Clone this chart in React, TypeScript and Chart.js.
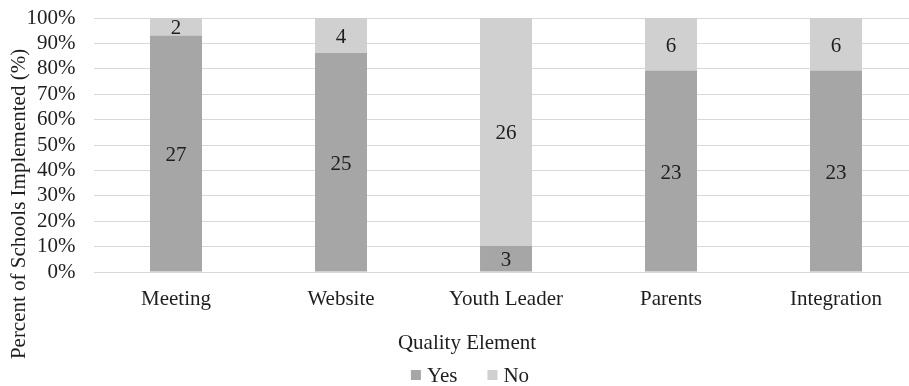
import React, { useEffect, useRef } from "react";
import { Chart, registerables } from "chart.js";

Chart.register(...registerables);

// School counts per quality element
const categories = ["Meeting", "Website", "Youth Leader", "Parents", "Integration"];
const yesCounts = [27, 25, 3, 23, 23];
const noCounts = [2, 4, 26, 6, 6];
const yTickLabels = ["0%", "10%", "20%", "30%", "40%", "50%", "60%", "70%", "80%", "90%", "100%"];

const seriesNames = ["Yes", "No"];
const seriesColors = ["#a6a6a6", "#d0d0d0"];

const FONT = '"Liberation Serif", "Times New Roman", serif';
const FONT_SIZE = 21;
const TEXT_COLOR = "#1e1e1e";

const CANVAS_W = 930;
const CANVAS_H = 386;

const pct = (counts: number[], other: number[]) =>
  counts.map((c, i) => (c / (c + other[i])) * 100);

const countsBySeries = [yesCounts, noCounts];

// Writes the count inside each stacked segment
const segmentLabels = {
  id: "segmentLabels",
  afterDatasetsDraw(chart: any) {
    const ctx = chart.ctx;
    ctx.save();
    ctx.font = `${FONT_SIZE}px ${FONT}`;
    ctx.fillStyle = TEXT_COLOR;
    ctx.textAlign = "center";
    ctx.textBaseline = "middle";
    chart.data.datasets.forEach((ds: any, di: number) => {
      const meta = chart.getDatasetMeta(di);
      meta.data.forEach((bar: any, i: number) => {
        const cy = (bar.y + bar.base) / 2;
        ctx.fillText(String(countsBySeries[di][i]), bar.x, cy + 2);
      });
    });
    ctx.restore();
  },
};

// Axis titles and legend drawn around the plot
const outerText = {
  id: "outerText",
  afterDraw(chart: any) {
    const ctx = chart.ctx;
    ctx.save();
    ctx.font = `${FONT_SIZE}px ${FONT}`;
    ctx.fillStyle = TEXT_COLOR;
    ctx.textBaseline = "middle";

    // y-axis title
    ctx.save();
    ctx.translate(19, 204);
    ctx.rotate(-Math.PI / 2);
    ctx.textAlign = "center";
    ctx.fillText("Percent of Schools Implemented (%)", 0, 0);
    ctx.restore();

    // x-axis title
    ctx.textAlign = "center";
    ctx.fillText("Quality Element", 467, 343);

    // legend
    const legendY = 375;
    const box = 10;
    const gap = 6;
    const itemGap = 30;
    const widths = seriesNames.map((n) => box + gap + ctx.measureText(n).width);
    const total = widths.reduce((a, b) => a + b, 0) + itemGap * (seriesNames.length - 1);
    let x = 470 - total / 2;
    ctx.textAlign = "left";
    seriesNames.forEach((n, i) => {
      ctx.fillStyle = seriesColors[i];
      ctx.fillRect(x, legendY - box / 2, box, box);
      ctx.fillStyle = TEXT_COLOR;
      ctx.fillText(n, x + box + gap, legendY + 1);
      x += widths[i] + itemGap;
    });
    ctx.restore();
  },
};

export default function App() {
  const canvasRef = useRef<HTMLCanvasElement | null>(null);

  useEffect(() => {
    const canvas = canvasRef.current;
    if (!canvas) return;
    const chart = new Chart(canvas, {
      type: "bar",
      data: {
        labels: categories,
        datasets: [
          {
            label: seriesNames[0],
            data: pct(yesCounts, noCounts),
            backgroundColor: seriesColors[0],
            barPercentage: 0.315,
            categoryPercentage: 1,
          },
          {
            label: seriesNames[1],
            data: pct(noCounts, yesCounts),
            backgroundColor: seriesColors[1],
            barPercentage: 0.315,
            categoryPercentage: 1,
          },
        ],
      },
      options: {
        responsive: false,
        animation: false,
        devicePixelRatio: 1,
        layout: { padding: { top: 18, right: 11.5, bottom: 0, left: 0 } },
        plugins: {
          legend: { display: false },
          tooltip: { enabled: false },
        },
        scales: {
          x: {
            stacked: true,
            grid: { display: false, drawTicks: false },
            border: { display: false },
            ticks: {
              color: TEXT_COLOR,
              font: { family: FONT, size: FONT_SIZE },
              padding: 15,
              maxRotation: 0,
              autoSkip: false,
            },
            afterFit(scale: any) {
              scale.height = CANVAS_H - 272;
              scale.paddingLeft = 0;
              scale.paddingRight = 0;
            },
          },
          y: {
            stacked: true,
            min: 0,
            max: 100,
            grid: { color: "#d9d9d9", lineWidth: 1, drawTicks: false },
            border: { display: false },
            ticks: {
              stepSize: 10,
              autoSkip: false,
              color: TEXT_COLOR,
              font: { family: FONT, size: FONT_SIZE },
              padding: 18,
              callback: (_v: any, i: number) => yTickLabels[i],
            },
            afterFit(scale: any) {
              scale.width = 93.5;
              scale.paddingTop = 0;
              scale.paddingBottom = 0;
            },
          },
        },
      },
      plugins: [segmentLabels, outerText],
    });
    return () => chart.destroy();
  }, []);

  return (
    <div
      style={{
        position: "fixed",
        left: 0,
        top: 0,
        width: 909,
        height: 386,
        overflow: "hidden",
        background: "#ffffff",
      }}
    >
      <canvas
        ref={canvasRef}
        width={CANVAS_W}
        height={CANVAS_H}
        style={{ width: CANVAS_W, height: CANVAS_H, display: "block" }}
      />
    </div>
  );
}
